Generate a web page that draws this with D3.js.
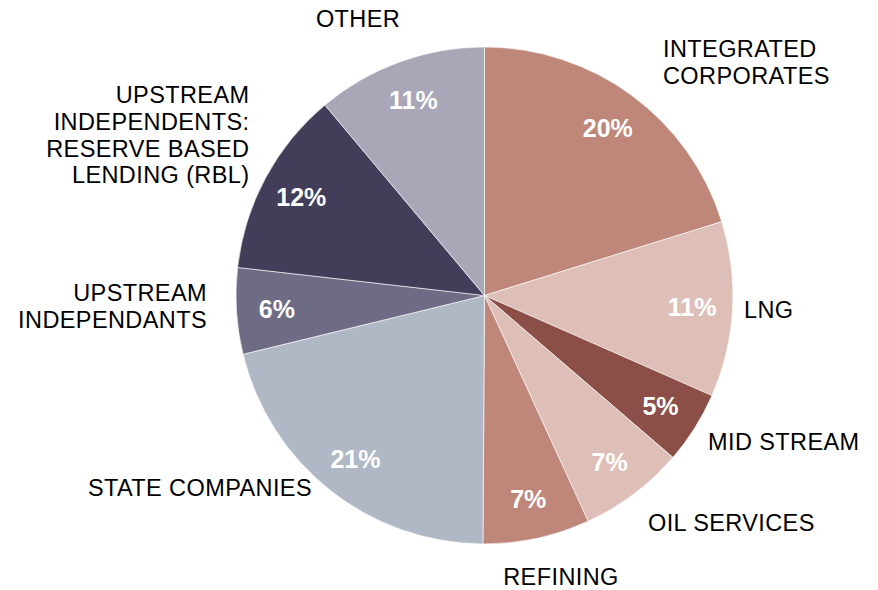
<!DOCTYPE html>
<html>
<head>
<meta charset="utf-8">
<script src="https://cdn.jsdelivr.net/npm/d3@7"></script>
<style>
  html, body { margin: 0; padding: 0; background: #fff; }
  svg { display: block; font-family: "Liberation Sans", Arial, sans-serif; }
</style>
</head>
<body>
<svg id="chart" width="878" height="590"></svg>
<script>
// Data (clockwise from 12 o'clock)
const categories = [
  "INTEGRATED CORPORATES", "LNG", "MID STREAM", "OIL SERVICES", "REFINING",
  "STATE COMPANIES", "UPSTREAM INDEPENDANTS",
  "UPSTREAM INDEPENDENTS: RESERVE BASED LENDING (RBL)", "OTHER"
];
const values = [20.2, 11.4, 4.7, 6.85, 6.95, 21.1, 5.6, 12.1, 11.1];
const percentLabels = ["20%", "11%", "5%", "7%", "7%", "21%", "6%", "12%", "11%"];
const labelLines = [
  ["INTEGRATED", "CORPORATES"],
  ["LNG"],
  ["MID STREAM"],
  ["OIL SERVICES"],
  ["REFINING"],
  ["STATE COMPANIES"],
  ["UPSTREAM", "INDEPENDANTS"],
  ["UPSTREAM", "INDEPENDENTS:", "RESERVE BASED", "LENDING (RBL)"],
  ["OTHER"]
];
const colors = ["#BF877A", "#DEBFB7", "#8C4F47", "#DEBFB7", "#BF877A",
                "#B1B8C5", "#6D6C84", "#423E5A", "#A8A6B7"];

// Layout
const cx = 484.5, cy = 295.5, R = 248.5, labelR = 208;
// external label placement: [x, first baseline y, anchor]
const labelPos = [
  [663, 56.7, "start"],
  [744, 317.7, "start"],
  [708, 450, "start"],
  [648, 531, "start"],
  [561, 585, "middle"],
  [312, 495.7, "end"],
  [207, 301, "end"],
  [249.5, 102.7, "end"],
  [358, 27.3, "middle"]
];
const lineH = 26.9;

const svg = d3.select("#chart");
const g = svg.append("g").attr("transform", `translate(${cx},${cy})`);

const data = categories.map((c, i) => ({ cat: c, value: values[i], i }));
const pie = d3.pie().value(d => d.value).sort(null);
const arcs = pie(data);
const arc = d3.arc().innerRadius(0).outerRadius(R);
const labelArc = d3.arc().innerRadius(labelR).outerRadius(labelR);

g.selectAll("path.slice")
  .data(arcs)
  .join("path")
  .attr("class", "slice")
  .attr("d", arc)
  .attr("fill", d => colors[d.data.i])
  .attr("stroke", "#ffffff")
  .attr("stroke-width", 0.6);

g.selectAll("text.pct")
  .data(arcs)
  .join("text")
  .attr("class", "pct")
  .attr("transform", d => `translate(${labelArc.centroid(d)})`)
  .attr("text-anchor", "middle")
  .attr("dy", "0.36em")
  .attr("fill", "#ffffff")
  .attr("font-weight", "bold")
  .attr("font-size", 25)
  .text(d => percentLabels[d.data.i]);

const lab = svg.selectAll("text.cat")
  .data(data)
  .join("text")
  .attr("class", "cat")
  .attr("x", d => labelPos[d.i][0])
  .attr("y", d => labelPos[d.i][1])
  .attr("text-anchor", d => labelPos[d.i][2])
  .attr("fill", "#000")
  .attr("font-size", 23.5)
  .attr("letter-spacing", 0.4);

lab.selectAll("tspan")
  .data(d => labelLines[d.i].map((t, k) => ({ t, k, x: labelPos[d.i][0] })))
  .join("tspan")
  .attr("x", d => d.x)
  .attr("dy", d => d.k === 0 ? 0 : lineH)
  .text(d => d.t);
</script>
</body>
</html>
